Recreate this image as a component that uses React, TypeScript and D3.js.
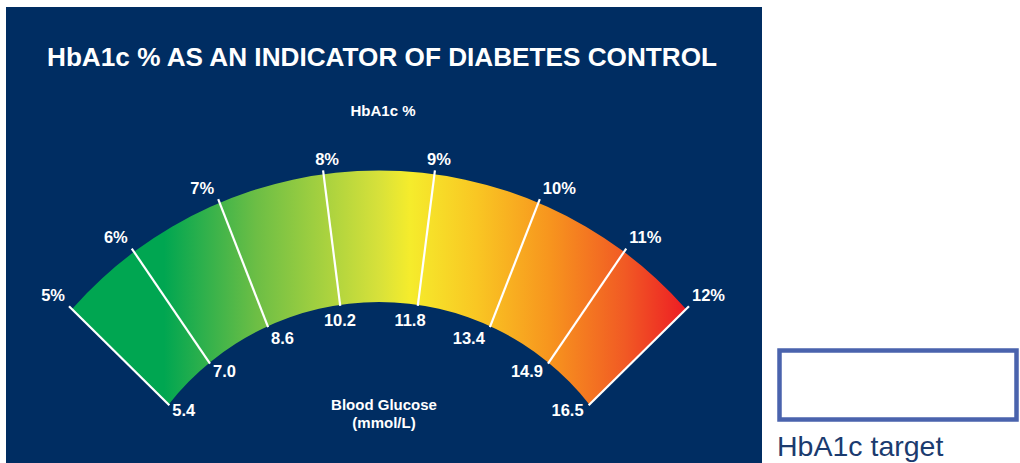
import React from "react";
import * as d3 from "d3";

const hba1cValues = [5, 6, 7, 8, 9, 10, 11, 12];
const hba1cLabels = ["5%", "6%", "7%", "8%", "9%", "10%", "11%", "12%"];
const glucoseLabels = ["5.4", "7.0", "8.6", "10.2", "11.8", "13.4", "14.9", "16.5"];
const titleText = "HbA1c % AS AN INDICATOR OF DIABETES CONTROL";
const topAxisTitle = "HbA1c %";
const bottomAxisTitle = ["Blood Glucose", "(mmol/L)"];
const legendLabel = "HbA1c target";

const W = 1020;
const H = 463;
const NAVY = "#002d62";
const gradientOffsets = [0, 0.15, 0.3, 0.5, 0.55, 0.66, 0.78, 0.9, 1];
const gradientColors = ["#00a651", "#00a651", "#6cbe45", "#d7e13a", "#f5ec2c", "#f9c623", "#f7941e", "#f15a24", "#ed1c24"];

export default function App() {
  const cx = 379;
  const tickCenter = { x: cx, y: 612 };
  const outerCircle = { x: cx, y: 580, r: 409.5 };
  const innerCircle = { x: cx, y: 569, r: 267 };
  const maxAngle = (45.4 * Math.PI) / 180;
  const warp = 0.8;
  const norm = d3
    .scaleLinear()
    .domain([d3.min(hba1cValues) as number, d3.max(hba1cValues) as number])
    .range([-warp, warp]);
  const angle = (v: number) => (maxAngle * Math.sin(norm(v))) / Math.sin(warp);

  const hit = (theta: number, circ: { x: number; y: number; r: number }) => {
    const dx = Math.sin(theta);
    const dy = -Math.cos(theta);
    const ox = tickCenter.x - circ.x;
    const oy = tickCenter.y - circ.y;
    const b = dx * ox + dy * oy;
    const c = ox * ox + oy * oy - circ.r * circ.r;
    return -b + Math.sqrt(b * b - c);
  };
  const pt = (theta: number, t: number): [number, number] => [
    tickCenter.x + Math.sin(theta) * t,
    tickCenter.y - Math.cos(theta) * t,
  ];

  const ticks = hba1cValues.map((v, i) => {
    const th = angle(v);
    const tO = hit(th, outerCircle);
    const tI = hit(th, innerCircle);
    return {
      v,
      i,
      th,
      deg: (th * 180) / Math.PI,
      outer: pt(th, tO),
      inner: pt(th, tI),
      outerEnd: pt(th, tO + 4),
      innerEnd: pt(th, tI - 1),
    };
  });

  const first = ticks[0];
  const last = ticks[ticks.length - 1];
  const ang = (p: [number, number], c: { x: number; y: number }) => Math.atan2(p[1] - c.y, p[0] - c.x);
  const band = d3.path();
  band.moveTo(first.outer[0], first.outer[1]);
  band.arc(outerCircle.x, outerCircle.y, outerCircle.r, ang(first.outer, outerCircle), ang(last.outer, outerCircle), false);
  band.lineTo(last.inner[0], last.inner[1]);
  band.arc(innerCircle.x, innerCircle.y, innerCircle.r, ang(last.inner, innerCircle), ang(first.inner, innerCircle), true);
  band.closePath();

  const labelFont = "'Liberation Sans', Arial, sans-serif";

  return (
    <svg
      width={W}
      height={H}
      viewBox={`0 0 ${W} ${H}`}
      style={{ position: "absolute", left: 0, top: 0, background: "#ffffff" }}
      fontFamily={labelFont}
    >
      <defs>
        <linearGradient id="gaugeGrad" gradientUnits="userSpaceOnUse" x1={first.outer[0]} y1={0} x2={last.outer[0]} y2={0}>
          {gradientOffsets.map((o, i) => (
            <stop key={i} offset={o} stopColor={gradientColors[i]} />
          ))}
        </linearGradient>
      </defs>
      <rect x={6} y={7} width={756} height={H} fill={NAVY} />
      <text x={382} y={66} textAnchor="middle" fill="#fff" fontSize={26} fontWeight="bold" textLength={670} lengthAdjust="spacingAndGlyphs">
        {titleText}
      </text>
      <text x={383} y={116} textAnchor="middle" fill="#fff" fontSize={15} fontWeight="bold">
        {topAxisTitle}
      </text>
      <path d={band.toString()} fill="url(#gaugeGrad)" />
      {ticks.map((t) => (
        <line
          key={"l" + t.i}
          x1={t.innerEnd[0]}
          y1={t.innerEnd[1]}
          x2={t.outerEnd[0]}
          y2={t.outerEnd[1]}
          stroke="#fff"
          strokeWidth={2.2}
        />
      ))}
      {ticks.map((t) => {
        const side = t.deg < -15 ? "end" : t.deg > 15 ? "start" : "middle";
        const dx = side === "end" ? -4 : side === "start" ? 3 : 4;
        return (
          <text
            key={"p" + t.i}
            x={t.outerEnd[0] + dx}
            y={t.outerEnd[1] - 5.5}
            textAnchor={side}
            fill="#fff"
            fontSize={16.5}
            fontWeight="bold"
          >
            {hba1cLabels[t.i]}
          </text>
        );
      })}
      {ticks.map((t) => {
        const side = t.deg < -15 ? "start" : t.deg > 15 ? "end" : "middle";
        const dx = side === "start" ? 3 : side === "end" ? -5 : -Math.sin(t.th) * 30 - 4;
        const dy = 22 - 0.25 * Math.abs(t.deg);
        return (
          <text
            key={"g" + t.i}
            x={t.innerEnd[0] + dx}
            y={t.innerEnd[1] + dy}
            textAnchor={side}
            fill="#fff"
            fontSize={16.5}
            fontWeight="bold"
          >
            {glucoseLabels[t.i]}
          </text>
        );
      })}
      {bottomAxisTitle.map((s, i) => (
        <text key={"b" + i} x={384} y={410 + i * 18} textAnchor="middle" fill="#fff" fontSize={15} fontWeight="bold">
          {s}
        </text>
      ))}
      <rect x={779.5} y={350.5} width={237} height={69} fill="#fff" stroke="#4a63ad" strokeWidth={4.5} />
      <text x={777} y={456} fill="#1b3b6f" fontSize={28.5}>
        {legendLabel}
      </text>
    </svg>
  );
}
